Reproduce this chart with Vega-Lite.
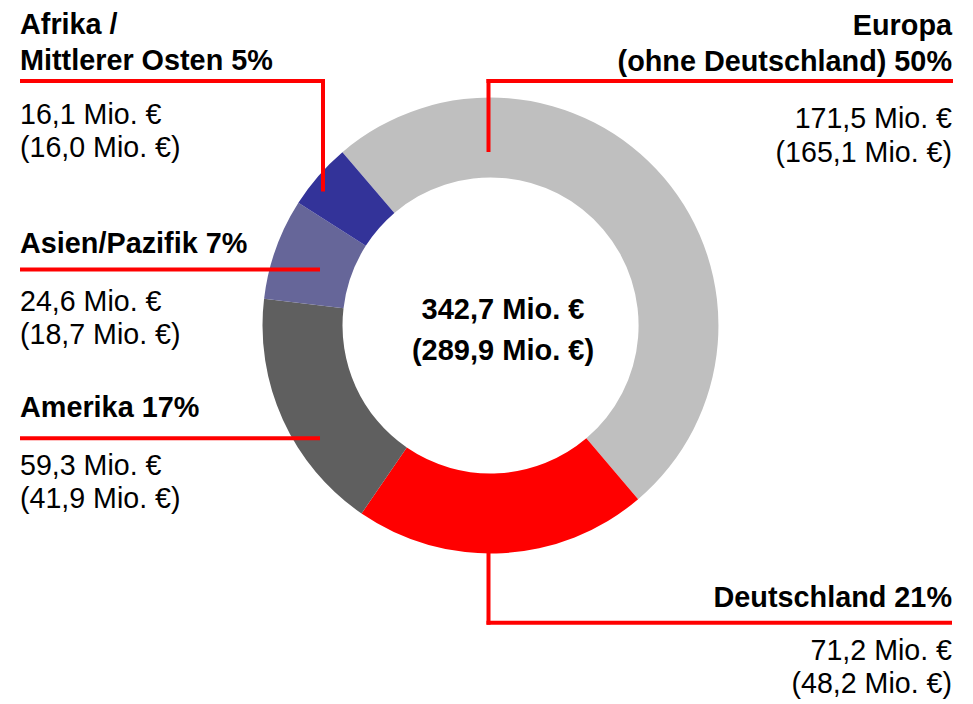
{
  "$schema": "https://vega.github.io/schema/vega-lite/v6.json",
  "width": 973,
  "height": 704,
  "padding": 0,
  "autosize": {"type": "none"},
  "background": "white",
  "config": {"view": {"stroke": null}, "font": "Liberation Sans"},
  "datasets": {
    "regionen": [
      {"region": "Europa (ohne Deutschland)", "reihenfolge": 1, "umsatz": 171.5, "vorjahr": 165.1, "anteil": 50, "titel": "Europa\n(ohne Deutschland) 50%", "werte": "171,5 Mio. €\n(165,1 Mio. €)"},
      {"region": "Deutschland", "reihenfolge": 2, "umsatz": 71.2, "vorjahr": 48.2, "anteil": 21, "titel": "Deutschland 21%", "werte": "71,2 Mio. €\n(48,2 Mio. €)"},
      {"region": "Amerika", "reihenfolge": 3, "umsatz": 59.3, "vorjahr": 41.9, "anteil": 17, "titel": "Amerika 17%", "werte": "59,3 Mio. €\n(41,9 Mio. €)"},
      {"region": "Asien/Pazifik", "reihenfolge": 4, "umsatz": 24.6, "vorjahr": 18.7, "anteil": 7, "titel": "Asien/Pazifik 7%", "werte": "24,6 Mio. €\n(18,7 Mio. €)"},
      {"region": "Afrika / Mittlerer Osten", "reihenfolge": 5, "umsatz": 16.1, "vorjahr": 16.0, "anteil": 5, "titel": "Afrika /\nMittlerer Osten 5%", "werte": "16,1 Mio. €\n(16,0 Mio. €)"}
    ],
    "gesamt": [
      {"umsatz": 342.7, "vorjahr": 289.9, "text": "342,7 Mio. €\n(289,9 Mio. €)"}
    ]
  },
  "data": {"name": "regionen"},
  "layer": [
    {
      "mark": {"type": "arc", "innerRadius": 148, "outerRadius": 228},
      "encoding": {
        "theta": {"field": "umsatz", "type": "quantitative", "stack": true, "scale": {"range": [-0.707, 5.5762]}},
        "order": {"field": "reihenfolge", "type": "quantitative"},
        "color": {
          "field": "region", "type": "nominal", "legend": null,
          "scale": {
            "domain": ["Europa (ohne Deutschland)", "Deutschland", "Amerika", "Asien/Pazifik", "Afrika / Mittlerer Osten"],
            "range": ["#bfbfbf", "#ff0000", "#5f5f5f", "#666699", "#333399"]
          }
        },
        "x": {"datum": 490.5, "type": "quantitative", "scale": {"domain": [0, 973], "nice": false, "zero": false}, "axis": null},
        "y": {"datum": 325.5, "type": "quantitative", "scale": {"domain": [0, 704], "nice": false, "zero": false, "reverse": true}, "axis": null}
      }
    },
    {
      "transform": [{"filter": "datum.reihenfolge == 5"}],
      "mark": {"type": "rule", "color": "#ff0000", "strokeWidth": 4},
      "encoding": {"x": {"datum": 20, "type": "quantitative"}, "x2": {"datum": 325}, "y": {"datum": 81, "type": "quantitative"}}
    },
    {
      "transform": [{"filter": "datum.reihenfolge == 5"}],
      "mark": {"type": "rule", "color": "#ff0000", "strokeWidth": 4},
      "encoding": {"x": {"datum": 323, "type": "quantitative"}, "y": {"datum": 79, "type": "quantitative"}, "y2": {"datum": 191.5}}
    },
    {
      "transform": [{"filter": "datum.reihenfolge == 1"}],
      "mark": {"type": "rule", "color": "#ff0000", "strokeWidth": 4},
      "encoding": {"x": {"datum": 486.5, "type": "quantitative"}, "x2": {"datum": 953}, "y": {"datum": 81, "type": "quantitative"}}
    },
    {
      "transform": [{"filter": "datum.reihenfolge == 1"}],
      "mark": {"type": "rule", "color": "#ff0000", "strokeWidth": 4},
      "encoding": {"x": {"datum": 488.5, "type": "quantitative"}, "y": {"datum": 79, "type": "quantitative"}, "y2": {"datum": 152}}
    },
    {
      "transform": [{"filter": "datum.reihenfolge == 4"}],
      "mark": {"type": "rule", "color": "#ff0000", "strokeWidth": 4},
      "encoding": {"x": {"datum": 20, "type": "quantitative"}, "x2": {"datum": 320}, "y": {"datum": 269.5, "type": "quantitative"}}
    },
    {
      "transform": [{"filter": "datum.reihenfolge == 3"}],
      "mark": {"type": "rule", "color": "#ff0000", "strokeWidth": 4},
      "encoding": {"x": {"datum": 20, "type": "quantitative"}, "x2": {"datum": 320}, "y": {"datum": 438.3, "type": "quantitative"}}
    },
    {
      "transform": [{"filter": "datum.reihenfolge == 2"}],
      "mark": {"type": "rule", "color": "#ff0000", "strokeWidth": 4},
      "encoding": {"x": {"datum": 486.5, "type": "quantitative"}, "x2": {"datum": 952}, "y": {"datum": 622.7, "type": "quantitative"}}
    },
    {
      "transform": [{"filter": "datum.reihenfolge == 2"}],
      "mark": {"type": "rule", "color": "#ff0000", "strokeWidth": 4},
      "encoding": {"x": {"datum": 488.5, "type": "quantitative"}, "y": {"datum": 551, "type": "quantitative"}, "y2": {"datum": 624.7}}
    },
    {
      "transform": [{"filter": "datum.reihenfolge == 5"}],
      "mark": {"type": "text", "align": "left", "baseline": "alphabetic", "font": "Liberation Sans", "fontWeight": "bold", "fontSize": 28.8, "lineHeight": 36, "lineBreak": "\n", "color": "#000000"},
      "encoding": {"text": {"field": "titel"}, "x": {"datum": 20, "type": "quantitative"}, "y": {"datum": 34.3, "type": "quantitative"}}
    },
    {
      "transform": [{"filter": "datum.reihenfolge == 5"}],
      "mark": {"type": "text", "align": "left", "baseline": "alphabetic", "font": "Liberation Sans", "fontSize": 28.6, "lineHeight": 33, "lineBreak": "\n", "color": "#000000"},
      "encoding": {"text": {"field": "werte"}, "x": {"datum": 20, "type": "quantitative"}, "y": {"datum": 123.5, "type": "quantitative"}}
    },
    {
      "transform": [{"filter": "datum.reihenfolge == 4"}],
      "mark": {"type": "text", "align": "left", "baseline": "alphabetic", "font": "Liberation Sans", "fontWeight": "bold", "fontSize": 28.8, "lineHeight": 36, "lineBreak": "\n", "color": "#000000"},
      "encoding": {"text": {"field": "titel"}, "x": {"datum": 20, "type": "quantitative"}, "y": {"datum": 253.3, "type": "quantitative"}}
    },
    {
      "transform": [{"filter": "datum.reihenfolge == 4"}],
      "mark": {"type": "text", "align": "left", "baseline": "alphabetic", "font": "Liberation Sans", "fontSize": 28.6, "lineHeight": 33.3, "lineBreak": "\n", "color": "#000000"},
      "encoding": {"text": {"field": "werte"}, "x": {"datum": 20, "type": "quantitative"}, "y": {"datum": 310.7, "type": "quantitative"}}
    },
    {
      "transform": [{"filter": "datum.reihenfolge == 3"}],
      "mark": {"type": "text", "align": "left", "baseline": "alphabetic", "font": "Liberation Sans", "fontWeight": "bold", "fontSize": 28.8, "lineHeight": 36, "lineBreak": "\n", "color": "#000000"},
      "encoding": {"text": {"field": "titel"}, "x": {"datum": 20, "type": "quantitative"}, "y": {"datum": 417.3, "type": "quantitative"}}
    },
    {
      "transform": [{"filter": "datum.reihenfolge == 3"}],
      "mark": {"type": "text", "align": "left", "baseline": "alphabetic", "font": "Liberation Sans", "fontSize": 28.6, "lineHeight": 33.3, "lineBreak": "\n", "color": "#000000"},
      "encoding": {"text": {"field": "werte"}, "x": {"datum": 20, "type": "quantitative"}, "y": {"datum": 475, "type": "quantitative"}}
    },
    {
      "transform": [{"filter": "datum.reihenfolge == 1"}],
      "mark": {"type": "text", "align": "right", "baseline": "alphabetic", "font": "Liberation Sans", "fontWeight": "bold", "fontSize": 28.8, "lineHeight": 36, "lineBreak": "\n", "color": "#000000"},
      "encoding": {"text": {"field": "titel"}, "x": {"datum": 952, "type": "quantitative"}, "y": {"datum": 35, "type": "quantitative"}}
    },
    {
      "transform": [{"filter": "datum.reihenfolge == 1"}],
      "mark": {"type": "text", "align": "right", "baseline": "alphabetic", "font": "Liberation Sans", "fontSize": 28.6, "lineHeight": 33.5, "lineBreak": "\n", "color": "#000000"},
      "encoding": {"text": {"field": "werte"}, "x": {"datum": 952, "type": "quantitative"}, "y": {"datum": 128, "type": "quantitative"}}
    },
    {
      "transform": [{"filter": "datum.reihenfolge == 2"}],
      "mark": {"type": "text", "align": "right", "baseline": "alphabetic", "font": "Liberation Sans", "fontWeight": "bold", "fontSize": 28.8, "lineHeight": 36, "lineBreak": "\n", "color": "#000000"},
      "encoding": {"text": {"field": "titel"}, "x": {"datum": 952, "type": "quantitative"}, "y": {"datum": 606.7, "type": "quantitative"}}
    },
    {
      "transform": [{"filter": "datum.reihenfolge == 2"}],
      "mark": {"type": "text", "align": "right", "baseline": "alphabetic", "font": "Liberation Sans", "fontSize": 28.6, "lineHeight": 33.3, "lineBreak": "\n", "color": "#000000"},
      "encoding": {"text": {"field": "werte"}, "x": {"datum": 952, "type": "quantitative"}, "y": {"datum": 660, "type": "quantitative"}}
    },
    {
      "data": {"name": "gesamt"},
      "mark": {"type": "text", "align": "center", "baseline": "alphabetic", "font": "Liberation Sans", "fontWeight": "bold", "fontSize": 29, "lineHeight": 41, "lineBreak": "\n", "color": "#000000"},
      "encoding": {"text": {"field": "text"}, "x": {"datum": 503, "type": "quantitative"}, "y": {"datum": 319, "type": "quantitative"}}
    }
  ]
}
